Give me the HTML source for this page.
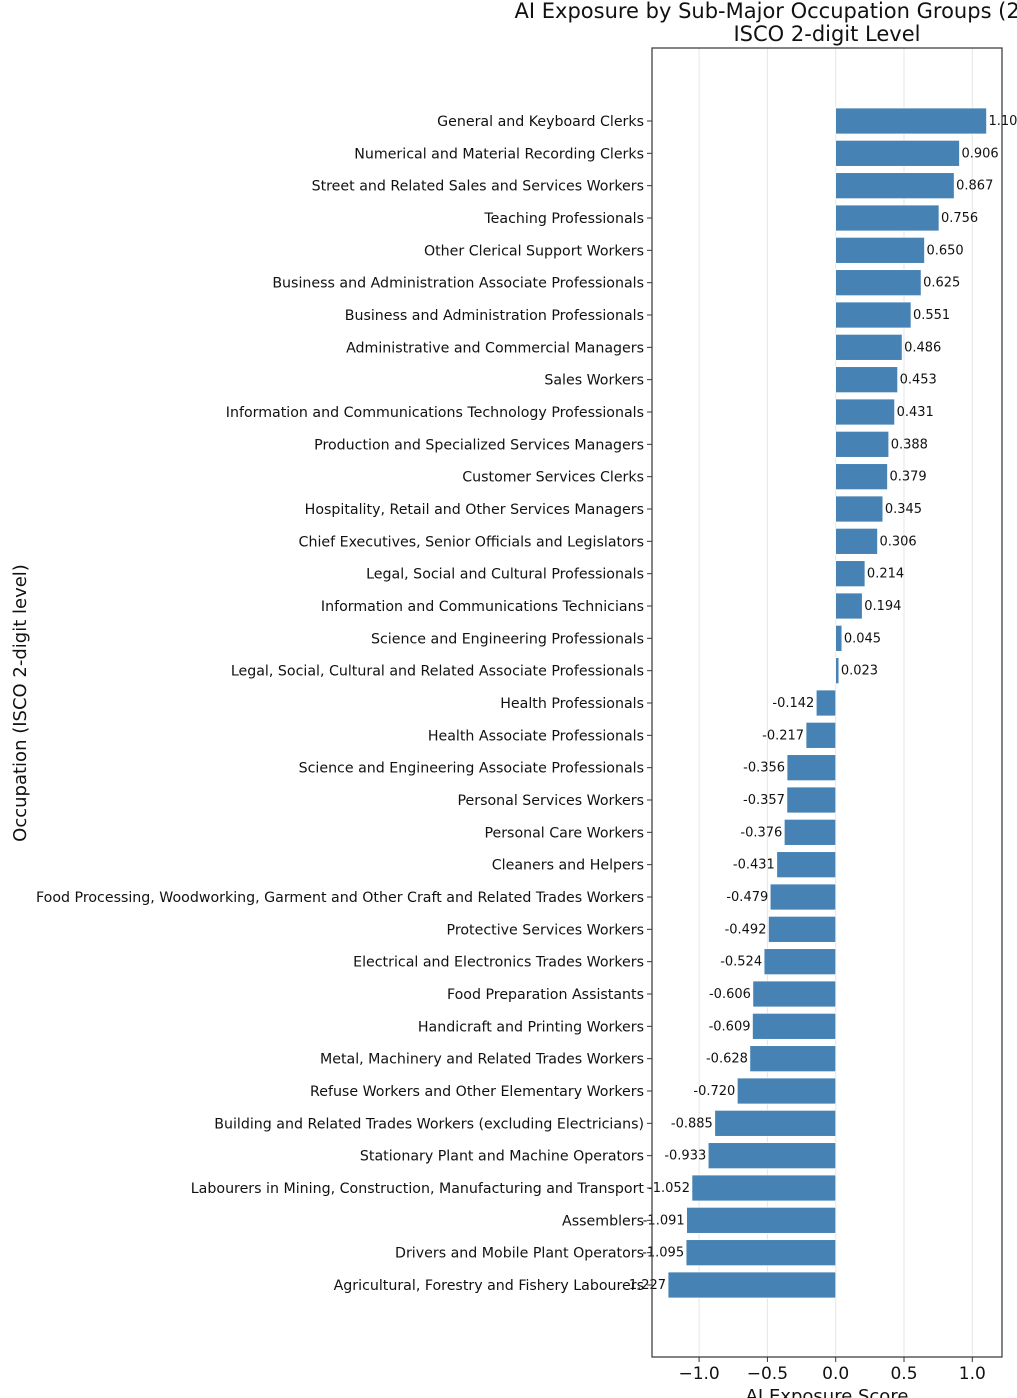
<!DOCTYPE html>
<html><head><meta charset="utf-8"><style>
html,body{margin:0;padding:0;background:#fff;}
svg{display:block;font-family:"DejaVu Sans","Liberation Sans",sans-serif;}
</style></head><body>
<svg id="chart" width="1017" height="1398" viewBox="0 0 1017 1398" xmlns="http://www.w3.org/2000/svg">
<text x="827" y="18" text-anchor="middle" font-size="21" fill="#111">AI Exposure by Sub-Major Occupation Groups (2-digit ISCO)</text>
<text x="827" y="41" text-anchor="middle" font-size="21" fill="#111">ISCO 2-digit Level</text>
<g id="grid"></g>
<g id="bars"></g>
<g id="yaxis"></g>
<g id="xaxis"></g>
<rect x="652" y="48" width="350" height="1309" fill="none" stroke="#333" stroke-width="1.2"/>
<text x="827" y="1402" text-anchor="middle" font-size="18" fill="#111">AI Exposure Score</text>
<text transform="translate(26,703) rotate(-90)" text-anchor="middle" font-size="18" fill="#111">Occupation (ISCO 2-digit level)</text>
</svg>
<script>
const categories = ["General and Keyboard Clerks","Numerical and Material Recording Clerks","Street and Related Sales and Services Workers","Teaching Professionals","Other Clerical Support Workers","Business and Administration Associate Professionals","Business and Administration Professionals","Administrative and Commercial Managers","Sales Workers","Information and Communications Technology Professionals","Production and Specialized Services Managers","Customer Services Clerks","Hospitality, Retail and Other Services Managers","Chief Executives, Senior Officials and Legislators","Legal, Social and Cultural Professionals","Information and Communications Technicians","Science and Engineering Professionals","Legal, Social, Cultural and Related Associate Professionals","Health Professionals","Health Associate Professionals","Science and Engineering Associate Professionals","Personal Services Workers","Personal Care Workers","Cleaners and Helpers","Food Processing, Woodworking, Garment and Other Craft and Related Trades Workers","Protective Services Workers","Electrical and Electronics Trades Workers","Food Preparation Assistants","Handicraft and Printing Workers","Metal, Machinery and Related Trades Workers","Refuse Workers and Other Elementary Workers","Building and Related Trades Workers (excluding Electricians)","Stationary Plant and Machine Operators","Labourers in Mining, Construction, Manufacturing and Transport","Assemblers","Drivers and Mobile Plant Operators","Agricultural, Forestry and Fishery Labourers"];
const scores = [1.104,0.906,0.867,0.756,0.650,0.625,0.551,0.486,0.453,0.431,0.388,0.379,0.345,0.306,0.214,0.194,0.045,0.023,-0.142,-0.217,-0.356,-0.357,-0.376,-0.431,-0.479,-0.492,-0.524,-0.606,-0.609,-0.628,-0.720,-0.885,-0.933,-1.052,-1.091,-1.095,-1.227];
const xTicks = [-1.0,-0.5,0.0,0.5,1.0];
const xTickLabels = ["\u22121.0","\u22120.5","0.0","0.5","1.0"];

const NS="http://www.w3.org/2000/svg";
const x0=835.7, scale=136.6;
function xs(v){return x0+v*scale;}
const yTop=121, step=(1285-121)/36;
function ys(i){return yTop+i*step;}
const bh=step*0.8;
function mk(tag,attrs,parent){const e=document.createElementNS(NS,tag);for(const k in attrs)e.setAttribute(k,attrs[k]);parent.appendChild(e);return e;}
const grid=document.getElementById('grid'),bars=document.getElementById('bars'),ya=document.getElementById('yaxis'),xa=document.getElementById('xaxis');
xTicks.forEach((t,i)=>{
  const g=mk('line',{x1:xs(t),x2:xs(t),y1:48,y2:1357,stroke:'#e6e6e6','stroke-width':1},grid);
  
  
  const tk=mk('line',{x1:xs(t),x2:xs(t),y1:1357,y2:1362,stroke:'#333'},xa);
  
  
  const tl=mk('text',{x:xs(t),y:1379,'text-anchor':'middle','font-size':17,fill:'#111'},xa);
  tl.textContent=xTickLabels[i];
  
  
});
categories.forEach((c,i)=>{
  const v=scores[i],y=ys(i);
  const x=Math.min(xs(0),xs(v)),w=Math.abs(xs(v)-xs(0));
  const r=mk('rect',{x:x,y:y-bh/2,width:w,height:bh,fill:'#4682b4',stroke:'#fff','stroke-width':0.6},bars);
  
  
  const vl=mk('text',{x:v>=0?xs(v)+2:xs(v)-2,y:y+4,'text-anchor':v>=0?'start':'end','font-size':13,fill:'#111'},bars);
  vl.textContent=v.toFixed(3);
  
  
  const tk=mk('line',{x1:647,x2:652,y1:y,y2:y,stroke:'#333'},ya);
  
  
  const tl=mk('text',{x:644,y:y+5,'text-anchor':'end','font-size':14.2,fill:'#111'},ya);
  tl.textContent=c;
  
  
});
</script>
</body></html>
